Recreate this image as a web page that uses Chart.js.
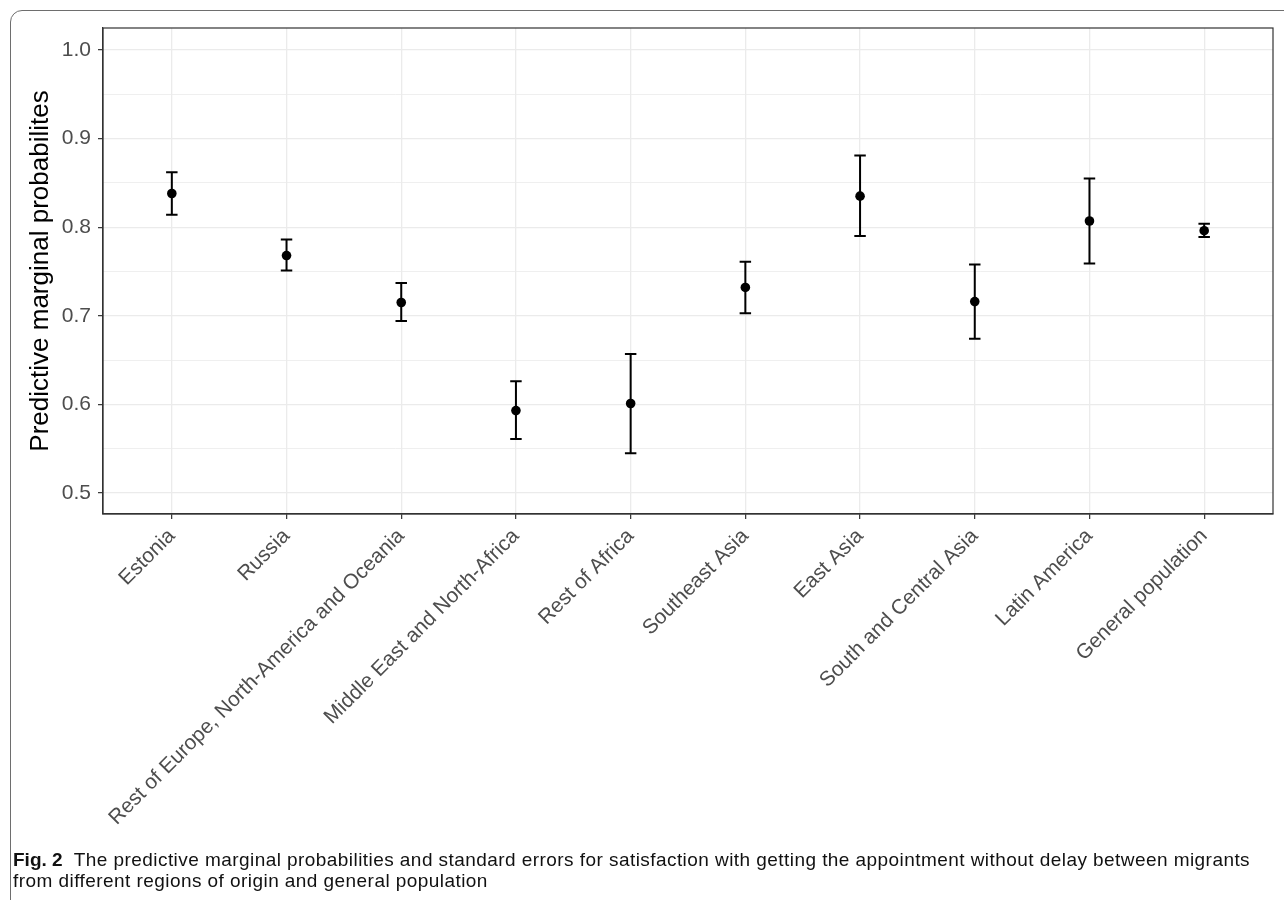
<!DOCTYPE html>
<html>
<head>
<meta charset="utf-8">
<script src="https://cdn.jsdelivr.net/npm/chart.js@4.4.1/dist/chart.umd.min.js"></script>
<style>
  html, body { margin: 0; padding: 0; background: #fff; overflow: hidden; }
  #wrap { position: relative; width: 1284px; height: 900px; }
  #frame { position: absolute; left: 10px; top: 10px; width: 1320px; height: 1000px;
           border: 1px solid #6e6e6e; border-radius: 12px; box-sizing: border-box; }
  canvas { position: absolute; left: 0; top: 0; }
  #caption { position: absolute; left: 13px; top: 849px; width: 1270px; white-space: nowrap;
             font-family: "Liberation Sans", Arial, sans-serif; font-size: 19px;
             letter-spacing: 0.44px; line-height: 21px; color: #111; }
  #caption b { font-weight: bold; letter-spacing: 0; }
</style>
</head>
<body>
<div id="wrap">
  <div id="frame"></div>
  <canvas id="c" width="1284" height="900"></canvas>
  <div id="caption"><b>Fig. 2</b>&nbsp; The predictive marginal probabilities and standard errors for satisfaction with getting the appointment without delay between migrants<br>from different regions of origin and general population</div>
</div>
<script>
const categories = ['Estonia', 'Russia', 'Rest of Europe, North-America and Oceania',
  'Middle East and North-Africa', 'Rest of Africa', 'Southeast Asia', 'East Asia',
  'South and Central Asia', 'Latin America', 'General population'];
const estimate = [0.838, 0.768, 0.715, 0.593, 0.601, 0.732, 0.835, 0.716, 0.807, 0.796];
const lower    = [0.814, 0.751, 0.694, 0.561, 0.545, 0.703, 0.790, 0.674, 0.759, 0.789];
const upper    = [0.862, 0.786, 0.737, 0.626, 0.657, 0.761, 0.881, 0.758, 0.855, 0.804];
const yMajorTicks = [0.5, 0.6, 0.7, 0.8, 0.9, 1.0];
const yMinorTicks = [0.55, 0.65, 0.75, 0.85, 0.95];
const yTitle = 'Predictive marginal probabilites';

const points = estimate.map((v, i) => ({ x: i, y: v }));
const isMajor = (v) => yMajorTicks.some(m => Math.abs(m - v) < 1e-6);

const errorBars = {
  id: 'errorBars',
  beforeDatasetsDraw(chart) {
    const ctx = chart.ctx, xs = chart.scales.x, ys = chart.scales.y;
    const half = (xs.getPixelForValue(0.05) - xs.getPixelForValue(0));
    ctx.save();
    ctx.strokeStyle = '#000';
    ctx.lineWidth = 2;
    ctx.lineCap = 'butt';
    for (let i = 0; i < categories.length; i++) {
      const x = xs.getPixelForValue(i);
      const yl = ys.getPixelForValue(lower[i]);
      const yu = ys.getPixelForValue(upper[i]);
      ctx.beginPath();
      ctx.moveTo(x, yl); ctx.lineTo(x, yu);
      ctx.moveTo(x - half, yl); ctx.lineTo(x + half, yl);
      ctx.moveTo(x - half, yu); ctx.lineTo(x + half, yu);
      ctx.stroke();
    }
    ctx.restore();
  },
  afterDraw(chart) {
    const ctx = chart.ctx, a = chart.chartArea;
    ctx.save();
    ctx.strokeStyle = '#333333';
    ctx.lineWidth = 1.2;
    ctx.strokeRect(a.left, a.top, a.right - a.left, a.bottom - a.top);
    ctx.restore();
  }
};

new Chart(document.getElementById('c'), {
  type: 'scatter',
  data: {
    datasets: [{
      data: points,
      backgroundColor: '#000',
      borderColor: '#000',
      pointRadius: 4.8,
      pointHoverRadius: 4.8,
      borderWidth: 0
    }]
  },
  options: {
    responsive: false,
    animation: false,
    events: [],
    layout: { padding: { left: 0, right: 11, top: 28, bottom: 0 } },
    plugins: { legend: { display: false }, tooltip: { enabled: false } },
    scales: {
      x: {
        type: 'linear',
        min: -0.6,
        max: 9.6,
        afterBuildTicks(scale) { scale.ticks = categories.map((c, i) => ({ value: i })); },
        afterFit(scale) { scale.height = 386; },
        ticks: {
          autoSkip: false,
          minRotation: 45,
          maxRotation: 45,
          padding: 5,
          color: '#4D4D4D',
          font: { family: '"Liberation Sans", Arial, sans-serif', size: 20.8 },
          callback: (v) => categories[v]
        },
        grid: { color: '#EBEBEB', lineWidth: 1.3, tickLength: 5, tickColor: '#333333', tickWidth: 1.2 },
        border: { display: true, color: '#333333', width: 1.2 }
      },
      y: {
        type: 'linear',
        min: 0.4763,
        max: 1.0248,
        afterBuildTicks(scale) {
          scale.ticks = yMajorTicks.concat(yMinorTicks).sort((a, b) => a - b).map(v => ({ value: v }));
        },
        afterFit(scale) { scale.width = 103; },
        ticks: {
          padding: 7,
          color: '#4D4D4D',
          font: { family: '"Liberation Sans", Arial, sans-serif', size: 21 },
          callback: (v) => isMajor(v) ? v.toFixed(1) : ''
        },
        grid: {
          color: '#EBEBEB',
          lineWidth: (c) => isMajor(c.tick.value) ? 1.3 : 0.8,
          tickLength: 5,
          tickWidth: 1.2,
          tickColor: (c) => isMajor(c.tick.value) ? '#333333' : 'rgba(0,0,0,0)'
        },
        border: { display: true, color: '#333333', width: 1.2 },
        title: {
          display: true,
          text: yTitle,
          color: '#000',
          font: { family: '"Liberation Sans", Arial, sans-serif', size: 26 },
          padding: { top: 25, bottom: 0 }
        }
      }
    }
  },
  plugins: [errorBars]
});
</script>
</body>
</html>
